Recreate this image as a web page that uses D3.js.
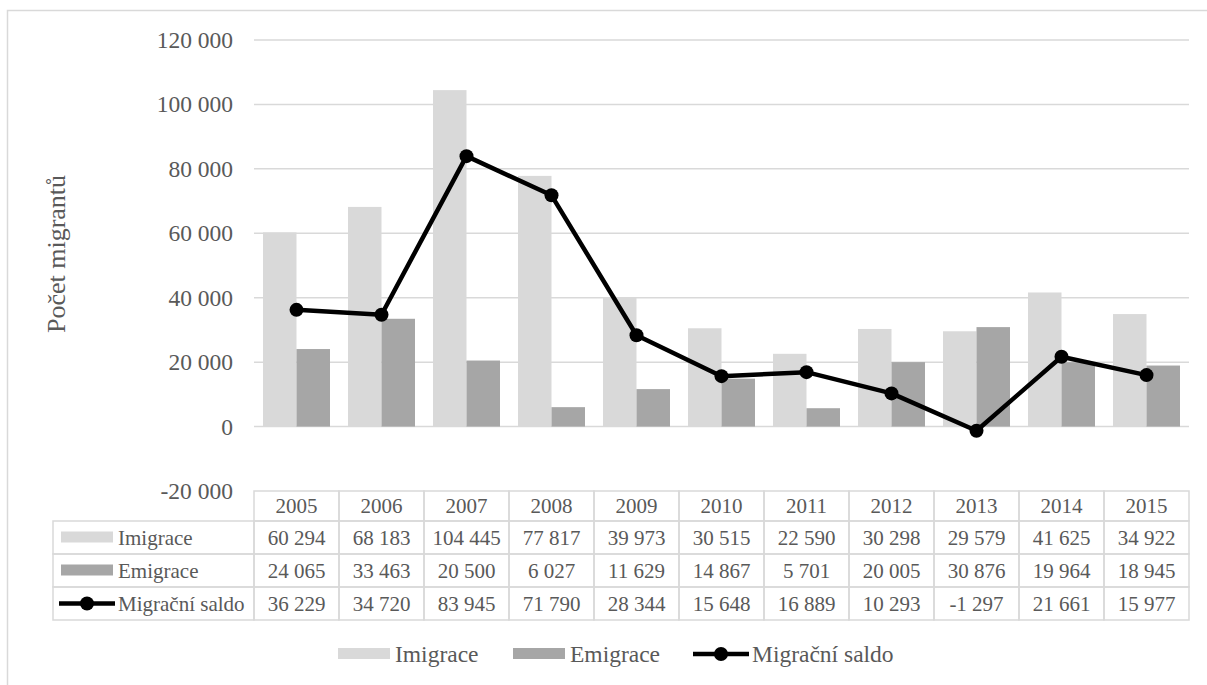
<!DOCTYPE html>
<html>
<head>
<meta charset="utf-8">
<script src="https://cdn.jsdelivr.net/npm/d3@7"></script>
<style>
  body { margin: 0; background: #fff; }
  svg text { font-family: "Liberation Serif", "Times New Roman", serif; fill: #595959; }
</style>
</head>
<body>
<div id="viz"></div>
<script>
var years = ["2005", "2006", "2007", "2008", "2009", "2010", "2011", "2012", "2013", "2014", "2015"];
var imigrace = [60294, 68183, 104445, 77817, 39973, 30515, 22590, 30298, 29579, 41625, 34922];
var emigrace = [24065, 33463, 20500, 6027, 11629, 14867, 5701, 20005, 30876, 19964, 18945];
var saldo = [36229, 34720, 83945, 71790, 28344, 15648, 16889, 10293, -1297, 21661, 15977];
var yTicks = [-20000, 0, 20000, 40000, 60000, 80000, 100000, 120000];
var seriesNames = ["Imigrace", "Emigrace", "Migrační saldo"];

var color = {
    "Imigrace": "#d9d9d9",
    "Emigrace": "#a6a6a6",
    "Migrační saldo": "#000000",
    "grid": "#d9d9d9",
    "text": "#595959"
};

var w = 1207, h = 685;

var svg = d3.select("#viz")
    .append("svg")
    .attr("width", w)
    .attr("height", h);

// chart frame
svg.append("rect")
    .attr("x", 7.5).attr("y", 10.5)
    .attr("width", w).attr("height", h)
    .attr("fill", "none")
    .attr("stroke", color.grid)
    .attr("stroke-width", 1.5);

var x = d3.scaleBand().domain(years).range([254, 1189]);
var xs = d3.scaleBand().domain(["Imigrace", "Emigrace"]).range([9, x.bandwidth() - 9]);
var y = d3.scaleLinear().domain([-20000, 120000]).range([491, 40]);

var fmt = function(v) {
    var s = d3.format(",")(v).replace(/,/g, " ");
    return s.replace("−", "-");
};

// gridlines
svg.append("g").selectAll("line")
    .data(yTicks.filter(function(d) { return d > -20000; }))
    .enter().append("line")
    .attr("x1", 254).attr("x2", 1189)
    .attr("y1", function(d) { return y(d); })
    .attr("y2", function(d) { return y(d); })
    .attr("stroke", color.grid)
    .attr("stroke-width", 1.5);

// y tick labels
svg.append("g").selectAll("text")
    .data(yTicks)
    .enter().append("text")
    .attr("x", 233)
    .attr("y", function(d) { return y(d) + 8; })
    .attr("text-anchor", "end")
    .attr("font-size", 23.5)
    .text(fmt);

// y title
svg.append("text")
    .attr("transform", "translate(65,254) rotate(-90)")
    .attr("text-anchor", "middle")
    .attr("font-size", 26)
    .text("Počet migrantů");

// bars
var bars = svg.append("g");
years.forEach(function(yr, i) {
    [["Imigrace", imigrace[i]], ["Emigrace", emigrace[i]]].forEach(function(s) {
        bars.append("rect")
            .attr("x", x(yr) + xs(s[0]))
            .attr("width", xs.bandwidth())
            .attr("y", y(Math.max(0, s[1])))
            .attr("height", Math.abs(y(s[1]) - y(0)))
            .attr("fill", color[s[0]]);
    });
});

// line
var line = d3.line()
    .x(function(d, i) { return x(years[i]) + x.bandwidth() / 2; })
    .y(function(d) { return y(d); });

svg.append("path")
    .datum(saldo)
    .attr("d", line)
    .attr("fill", "none")
    .attr("stroke", "#000")
    .attr("stroke-width", 4.5)
    .attr("stroke-linejoin", "round");

svg.append("g").selectAll("circle")
    .data(saldo)
    .enter().append("circle")
    .attr("cx", function(d, i) { return x(years[i]) + x.bandwidth() / 2; })
    .attr("cy", function(d) { return y(d); })
    .attr("r", 7)
    .attr("fill", "#000");

// data table
var rowY = [491, 521, 554, 587, 620];
var table = svg.append("g");
var rows = [imigrace, emigrace, saldo];

// header cells
years.forEach(function(yr) {
    table.append("rect")
        .attr("x", x(yr)).attr("y", rowY[0])
        .attr("width", x.bandwidth()).attr("height", rowY[1] - rowY[0])
        .attr("fill", "none").attr("stroke", color.grid).attr("stroke-width", 1.5);
    table.append("text")
        .attr("x", x(yr) + x.bandwidth() / 2)
        .attr("y", rowY[0] + 22)
        .attr("text-anchor", "middle")
        .attr("font-size", 21)
        .text(yr);
});

rows.forEach(function(vals, r) {
    var y0 = rowY[r + 1], y1 = rowY[r + 2];
    var mid = (y0 + y1) / 2;
    table.append("rect")
        .attr("x", 53).attr("y", y0)
        .attr("width", 254 - 53).attr("height", y1 - y0)
        .attr("fill", "none").attr("stroke", color.grid).attr("stroke-width", 1.5);
    var name = seriesNames[r];
    if (r < 2) {
        table.append("rect")
            .attr("x", 61).attr("y", mid - 6)
            .attr("width", 52).attr("height", 11)
            .attr("fill", color[name]);
    } else {
        table.append("line")
            .attr("x1", 59).attr("x2", 115)
            .attr("y1", mid).attr("y2", mid)
            .attr("stroke", "#000").attr("stroke-width", 4.5);
        table.append("circle")
            .attr("cx", 87).attr("cy", mid).attr("r", 7).attr("fill", "#000");
    }
    table.append("text")
        .attr("x", 118).attr("y", mid + 7)
        .attr("font-size", 21)
        .text(name);
    vals.forEach(function(v, i) {
        table.append("rect")
            .attr("x", x(years[i])).attr("y", y0)
            .attr("width", x.bandwidth()).attr("height", y1 - y0)
            .attr("fill", "none").attr("stroke", color.grid).attr("stroke-width", 1.5);
        table.append("text")
            .attr("x", x(years[i]) + x.bandwidth() / 2)
            .attr("y", mid + 7)
            .attr("text-anchor", "middle")
            .attr("font-size", 21)
            .text(fmt(v));
    });
});

// legend
var legend = svg.append("g");
var ly = 654;
legend.append("rect").attr("x", 338).attr("y", ly - 6).attr("width", 52).attr("height", 11).attr("fill", color.Imigrace);
legend.append("text").attr("x", 395).attr("y", ly + 8).attr("font-size", 23.5).text("Imigrace");
legend.append("rect").attr("x", 513).attr("y", ly - 6).attr("width", 52).attr("height", 11).attr("fill", color.Emigrace);
legend.append("text").attr("x", 570).attr("y", ly + 8).attr("font-size", 23.5).text("Emigrace");
legend.append("line").attr("x1", 693).attr("x2", 749).attr("y1", ly).attr("y2", ly).attr("stroke", "#000").attr("stroke-width", 4.5);
legend.append("circle").attr("cx", 721).attr("cy", ly).attr("r", 7).attr("fill", "#000");
legend.append("text").attr("x", 752).attr("y", ly + 8).attr("font-size", 23.5).text("Migrační saldo");
</script>
</body>
</html>
